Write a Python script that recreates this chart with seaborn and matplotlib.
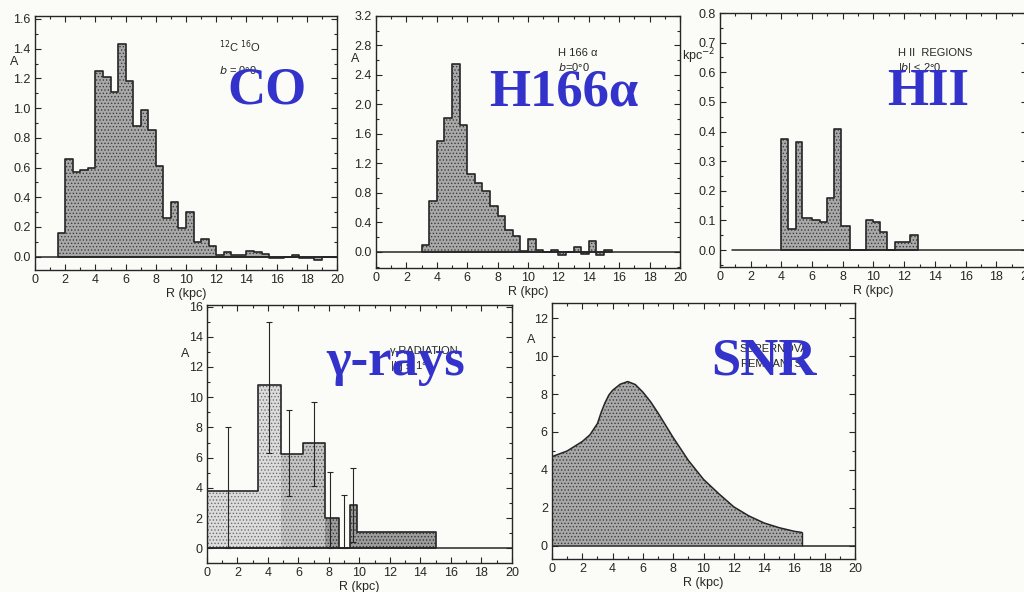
import numpy as np
import pandas as pd
import seaborn as sns
import matplotlib.pyplot as plt
from matplotlib.ticker import MultipleLocator, FormatStrFormatter

# --- data (R in kpc) ---
# 12C16O, b = 0.0
co_edges = [1.5, 2.0, 2.5, 3.0, 3.5, 4.0, 4.5, 5.0, 5.5, 6.0, 6.5, 7.0, 7.5, 8.0, 8.5,
            9.0, 9.5, 10.0, 10.5, 11.0, 11.5, 12.0, 12.5, 13.0, 13.5, 14.0, 14.5, 15.0,
            15.5, 16.0, 16.5, 17.0, 17.5, 18.0, 18.5, 19.0, 19.5, 20.0]
co_A = [0.16, 0.66, 0.57, 0.58, 0.60, 1.25, 1.21, 1.11, 1.43, 1.18, 0.88, 0.99, 0.85,
        0.61, 0.26, 0.37, 0.19, 0.30, 0.10, 0.12, 0.07, 0.01, 0.03, 0.01, 0.01, 0.04,
        0.03, 0.02, -0.01, -0.01, 0.0, 0.01, -0.01, -0.01, -0.02, 0.0, 0.0]

# H166alpha, b = 0.0
h166_edges = [3.0, 3.5, 4.0, 4.5, 5.0, 5.5, 6.0, 6.5, 7.0, 7.5, 8.0, 8.5, 9.0, 9.5,
              10.0, 10.5, 11.0, 11.5, 12.0, 12.5, 13.0, 13.5, 14.0, 14.5, 15.0, 15.5]
h166_A = [0.09, 0.69, 1.50, 1.81, 2.55, 1.72, 1.05, 0.93, 0.83, 0.62, 0.48, 0.30, 0.22,
          0.01, 0.17, 0.02, 0.0, 0.02, -0.04, 0.0, 0.06, -0.03, 0.14, -0.04, 0.02]

# HII regions, |b| <= 2.0  (kpc^-2)
hii_edges = [4.0, 4.4, 4.95, 5.35, 6.0, 6.5, 7.0, 7.4, 7.9, 8.5, 9.5, 10.0, 10.45,
             10.9, 11.4, 12.4, 12.9]
hii_n = [0.375, 0.07, 0.365, 0.11, 0.10, 0.095, 0.175, 0.41, 0.08, 0.0, 0.10, 0.095,
         0.06, 0.0, 0.028, 0.05]

# gamma radiation
gam_edges = [0.0, 3.33, 4.87, 6.3, 7.72, 8.66, 9.4, 9.84, 15.0]
gam_A = [3.8, 10.8, 6.25, 6.95, 2.0, 0.0, 2.85, 1.05]
err_R = [1.4, 4.05, 5.35, 7.0, 8.1, 8.97, 9.58]
err_A = [3.8, 10.8, 6.25, 6.95, 2.0, 0.0, 2.85]
err_lo = [0.0, 6.3, 3.46, 4.1, 0.0, 0.0, 0.4]
err_hi = [8.0, 15.0, 9.14, 9.65, 5.03, 3.55, 5.34]

# supernova remnants
snr_R = [0, 1, 2, 2.5, 3, 3.25, 3.5, 3.75, 4, 4.5, 5, 5.5, 6, 6.5, 7, 8, 9, 10, 11,
         12, 13, 14, 15, 16, 16.5]
snr_A = [4.70, 5.0, 5.5, 5.85, 6.45, 7.05, 7.55, 7.95, 8.2, 8.52, 8.66, 8.5, 8.1, 7.6,
         7.0, 5.7, 4.5, 3.5, 2.75, 2.05, 1.57, 1.2, 0.95, 0.76, 0.70]

sns.set_style("ticks")
plt.rcParams["font.family"] = ["Liberation Sans", "DejaVu Sans"]
plt.rcParams["hatch.linewidth"] = 0.6

ink = "#262626"
blue = "#3333cc"
paper = "#fbfbf8"

fig = plt.figure(figsize=(10.24, 5.92), dpi=100, facecolor=paper)


def stepped(ax, edges, vals, face="#a9a9a9", dots="#3c3c3c"):
    centers = [(a + b) / 2 for a, b in zip(edges[:-1], edges[1:])]
    sns.histplot(x=centers, weights=vals, bins=edges, element="step", fill=True,
                 color=face, facecolor=face, edgecolor=dots, linewidth=0, hatch=".....",
                 ax=ax)


def outline(ax, edges, vals):
    centers = [(a + b) / 2 for a, b in zip(edges[:-1], edges[1:])]
    sns.histplot(x=centers, weights=vals, bins=edges, element="step", fill=True,
                 color=ink, facecolor="none", edgecolor=ink, linewidth=1.2, ax=ax)


def frame(ax, ylim, major, minor, fmt, ylab, ylab_y):
    ax.set_facecolor(paper)
    ax.set_xlim(0, 20)
    ax.set_ylim(*ylim)
    ax.xaxis.set_major_locator(MultipleLocator(2))
    ax.xaxis.set_minor_locator(MultipleLocator(1))
    ax.yaxis.set_major_locator(MultipleLocator(major))
    ax.yaxis.set_minor_locator(MultipleLocator(minor))
    ax.yaxis.set_major_formatter(FormatStrFormatter(fmt))
    ax.tick_params(which="both", direction="in", top=True, right=True, color=ink,
                   labelcolor=ink, labelsize=9, width=0.8, pad=3)
    ax.tick_params(which="major", length=4)
    ax.tick_params(which="minor", length=2.5)
    for s in ax.spines.values():
        s.set_color(ink)
        s.set_linewidth(1.0)
    ax.set_xlabel("R (kpc)", fontsize=9, color=ink, labelpad=1)
    ax.set_ylabel("")
    ax.text(-0.07, ylab_y, ylab, transform=ax.transAxes, fontsize=9, color=ink,
            ha="center", va="center")


# CO
ax1 = fig.add_axes([0.0342, 0.5439, 0.2949, 0.4291])
stepped(ax1, co_edges, co_A)
outline(ax1, co_edges, co_A)
ax1.axhline(0, color=ink, lw=1.1)
frame(ax1, (-0.09, 1.62), 0.2, 0.1, "%.1f", "A", 0.82)
ax1.text(0.61, 0.86, "$^{12}$C $^{16}$O", transform=ax1.transAxes, fontsize=8, color=ink)
ax1.text(0.61, 0.77, "$b$ = 0°0", transform=ax1.transAxes, fontsize=8, color=ink)

# H166alpha
ax2 = fig.add_axes([0.3672, 0.5473, 0.2969, 0.4257])
stepped(ax2, h166_edges, h166_A)
outline(ax2, h166_edges, h166_A)
ax2.axhline(0, color=ink, lw=1.1)
frame(ax2, (-0.22, 3.2), 0.4, 0.2, "%.1f", "A", 0.83)
ax2.text(0.6, 0.84, "H 166 α", transform=ax2.transAxes, fontsize=8, color=ink)
ax2.text(0.6, 0.78, "$b$=0°0", transform=ax2.transAxes, fontsize=8, color=ink)

# HII regions
ax3 = fig.add_axes([0.7031, 0.549, 0.2998, 0.429])
stepped(ax3, hii_edges, hii_n)
outline(ax3, hii_edges, hii_n)
ax3.axhline(0, xmin=0.038, color=ink, lw=1.1)
frame(ax3, (-0.057, 0.8), 0.1, 0.05, "%.1f", "kpc$^{-2}$", 0.83)
ax3.text(0.58, 0.83, "H II  REGIONS", transform=ax3.transAxes, fontsize=8, color=ink)
ax3.text(0.58, 0.77, "|$b$| ≤ 2°0", transform=ax3.transAxes, fontsize=8, color=ink)

# gamma radiation
ax4 = fig.add_axes([0.2021, 0.049, 0.2979, 0.4358])
stepped(ax4, gam_edges[:3], gam_A[:2], face="#dcdcdc", dots="#6e6e6e")
stepped(ax4, gam_edges[2:5], gam_A[2:4], face="#c4c4c4", dots="#555555")
stepped(ax4, gam_edges[4:], gam_A[4:], face="#9c9c9c", dots="#333333")
outline(ax4, gam_edges, gam_A)
ax4.errorbar(err_R, err_A, yerr=[np.subtract(err_A, err_lo), np.subtract(err_hi, err_A)],
             fmt="none", ecolor=ink, elinewidth=0.8, capsize=2.5, capthick=0.8)
ax4.axhline(0, color=ink, lw=1.1)
frame(ax4, (-0.97, 16.1), 2, 1, "%d", "A", 0.81)
ax4.text(0.6, 0.81, "γ-RADIATION", transform=ax4.transAxes, fontsize=8, color=ink)
ax4.text(0.6, 0.75, "|$b$| ≤ 1°", transform=ax4.transAxes, fontsize=8, color=ink)

# supernova remnants
ax5 = fig.add_axes([0.5391, 0.0557, 0.2959, 0.4324])
snr = pd.DataFrame({"R": snr_R, "A": snr_A})
ax5.fill_between(snr["R"], 0, snr["A"], facecolor="#a9a9a9", edgecolor="#3c3c3c",
                 linewidth=0, hatch=".....")
sns.lineplot(data=snr, x="R", y="A", color=ink, lw=1.1, ax=ax5)
ax5.vlines(snr_R[-1], 0, snr_A[-1], color=ink, lw=1.0)
ax5.axhline(0, color=ink, lw=1.1)
frame(ax5, (-0.7, 12.8), 2, 1, "%d", "A", 0.855)
ax5.text(0.62, 0.81, "SUPERNOVA", transform=ax5.transAxes, fontsize=8, color=ink)
ax5.text(0.62, 0.75, "REMNANTS", transform=ax5.transAxes, fontsize=8, color=ink)

# big blue tracer labels
for txt, x, y in [("CO", 0.261, 0.826), ("H166α", 0.551, 0.821), ("HII", 0.906, 0.822),
                  ("γ-rays", 0.386, 0.367), ("SNR", 0.746, 0.367)]:
    fig.text(x, y, txt, ha="center", va="baseline", color=blue, fontsize=38,
             fontweight="bold", family=["Liberation Serif", "DejaVu Serif"], zorder=10)

fig.savefig("out.png", dpi=100, facecolor=paper)
